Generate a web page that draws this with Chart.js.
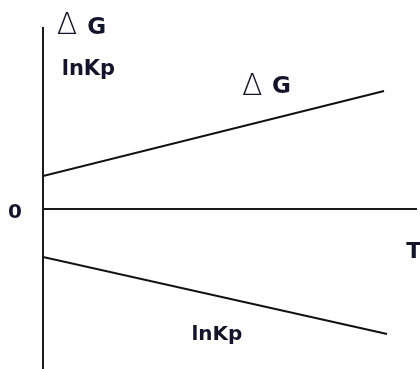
<!DOCTYPE html>
<html>
<head>
<meta charset="utf-8">
<script src="https://cdn.jsdelivr.net/npm/chart.js@4"></script>
<style>
  html, body { margin: 0; padding: 0; background: #fff; overflow: hidden; }
  canvas { display: block; }
</style>
</head>
<body>
<canvas id="gibbsChart" width="420" height="369"></canvas>
<script>
"use strict";

// Temperature at each end of the two straight lines
const tDeltaG = [0, 9.12];
const tLnKp = [0, 9.2];

// Line values on the shared vertical axis
const deltaG = [1.65, 5.9];
const lnKp = [-2.4, -6.25];

// Only the origin gets a tick label (and the T axis line)
const yTicks = [0];

const TEXT_COLOR = '#14142a';
const LINE_COLOR = '#111';
const AXIS_COLOR = '#1a1a1a';

// Free text drawn inside the plot, anchored in axis units (left edge, baseline)
const LABELS = [
    {text: 'Δ', t: 0.37, v: 8.75, font: '200 30px "DejaVu Sans"'},
    {text: 'G', t: 1.18, v: 8.75, font: 'bold 23px "DejaVu Sans"'},
    {text: 'lnKp', t: 0.5, v: 6.7, font: 'bold 21px "DejaVu Sans"'},
    {text: 'Δ', t: 5.32, v: 5.7, font: '200 30px "DejaVu Sans"'},
    {text: 'G', t: 6.12, v: 5.8, font: 'bold 23px "DejaVu Sans"'},
    {text: 'lnKp', t: 3.97, v: -6.55, font: 'bold 20px "DejaVu Sans"'},
    {text: 'T', t: 9.71, v: -2.45, font: 'bold 22px "DejaVu Sans"'}
];

const textLabels = {
    id: 'textLabels',
    afterDraw(chart) {
        const {ctx, scales: {x, y}} = chart;
        ctx.save();
        ctx.fillStyle = TEXT_COLOR;
        ctx.textAlign = 'left';
        ctx.textBaseline = 'alphabetic';
        LABELS.forEach(l => {
            ctx.font = l.font;
            ctx.fillText(l.text, x.getPixelForValue(l.t), y.getPixelForValue(l.v));
        });
        ctx.restore();
    }
};

const toPoints = (xs, ys) => xs.map((t, i) => ({x: t, y: ys[i]}));

new Chart(document.getElementById('gibbsChart'), {
    type: 'scatter',
    data: {
        datasets: [
            {
                label: 'ΔG',
                data: toPoints(tDeltaG, deltaG),
                showLine: true,
                borderColor: LINE_COLOR,
                borderWidth: 2,
                pointRadius: 0
            },
            {
                label: 'lnKp',
                data: toPoints(tLnKp, lnKp),
                showLine: true,
                borderColor: LINE_COLOR,
                borderWidth: 2,
                pointRadius: 0
            }
        ]
    },
    options: {
        responsive: false,
        animation: false,
        events: [],
        layout: {padding: {top: 28, right: 3, bottom: 0, left: 0}},
        plugins: {
            legend: {display: false},
            tooltip: {enabled: false}
        },
        scales: {
            x: {
                type: 'linear',
                display: false,
                min: 0,
                max: 10
            },
            y: {
                type: 'linear',
                min: -8,
                max: 9.05,
                afterBuildTicks: s => { s.ticks = yTicks.map(v => ({value: v})); },
                ticks: {
                    font: {family: 'DejaVu Sans', weight: 'bold', size: 20},
                    color: TEXT_COLOR,
                    padding: 21,
                    labelOffset: 4
                },
                // the zero grid line doubles as the T axis
                grid: {
                    drawTicks: false,
                    color: AXIS_COLOR,
                    lineWidth: 2
                },
                border: {color: AXIS_COLOR, width: 2},
                // fixed width, and no extra room reserved above/below for the tick label
                afterFit: s => {
                    s.width = 43;
                    s.paddingTop = 0;
                    s.paddingBottom = 0;
                }
            }
        }
    },
    plugins: [textLabels]
});
</script>
</body>
</html>
